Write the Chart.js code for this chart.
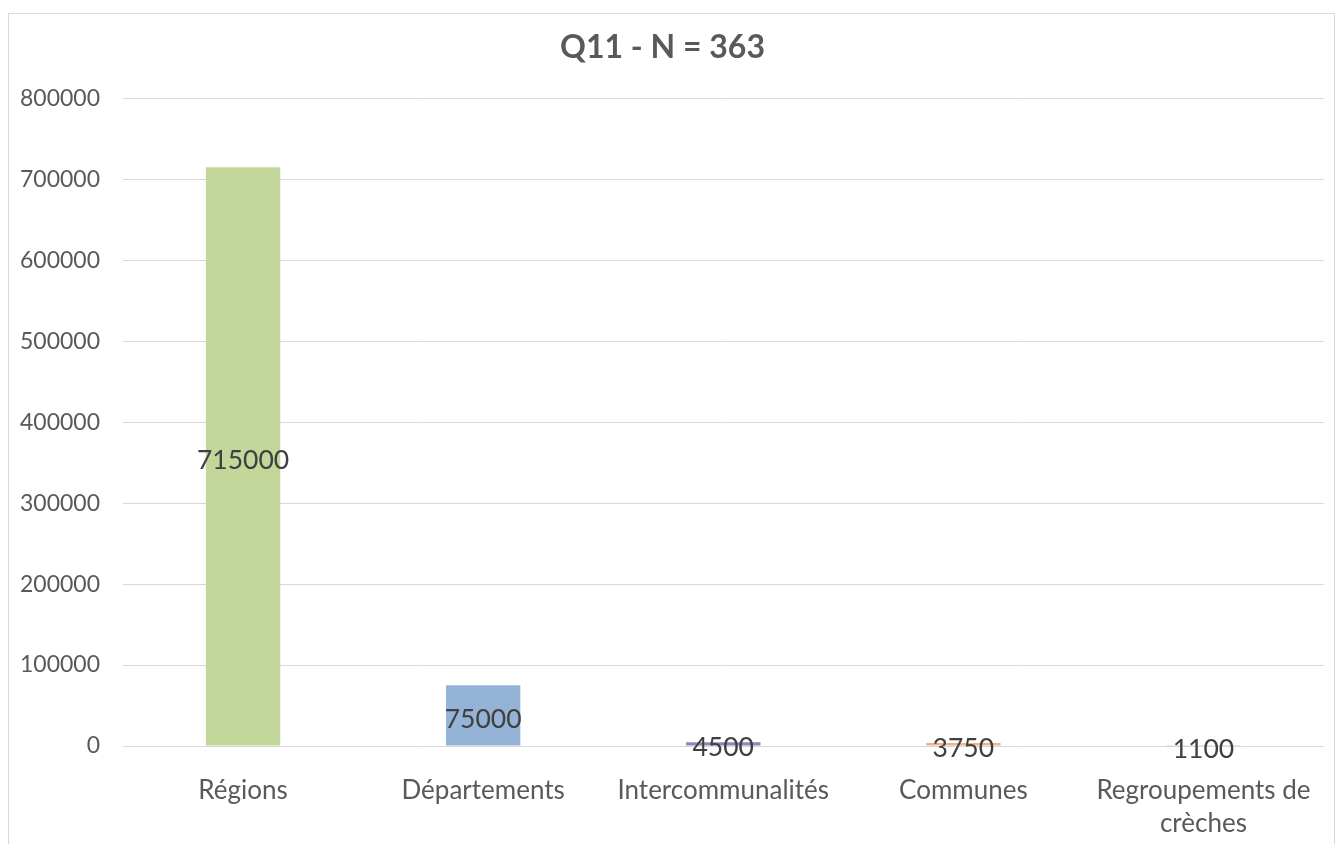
<!DOCTYPE html>
<html>
<head>
<meta charset="utf-8">
<script src="https://cdn.jsdelivr.net/npm/chart.js@4"></script>
<style>
  html, body { margin: 0; padding: 0; background: #ffffff; }
  #wrap { position: relative; width: 1340px; height: 844px; overflow: hidden; }
  #frame { position: absolute; left: 8px; top: 13px; width: 1327px; height: 900px; border: 1px solid #d9d9d9; box-sizing: border-box; }
  canvas { position: absolute; left: 0; top: 0; }
</style>
</head>
<body>
<div id="wrap">
  <div id="frame"></div>
  <canvas id="c" width="1340" height="844"></canvas>
</div>
<script>
const categories = ["Régions", "Départements", "Intercommunalités", "Communes", ["Regroupements de", "crèches"]];
const values = [715000, 75000, 4500, 3750, 1100];
const barColors = ["#c4d79b", "#95b3d7", "#8b87b8", "#f4b183", "#b7dee8"];
const yTicks = [0, 100000, 200000, 300000, 400000, 500000, 600000, 700000, 800000];

const FONT = "Lato, 'Open Sans', sans-serif";

const dataLabels = {
  id: 'dataLabels',
  afterDatasetsDraw(chart) {
    const ctx = chart.ctx;
    const meta = chart.getDatasetMeta(0);
    ctx.save();
    ctx.font = "26.5px " + FONT;
    ctx.fillStyle = "#404040";
    ctx.textAlign = "center";
    ctx.textBaseline = "middle";
    meta.data.forEach((bar, i) => {
      const yc = (bar.y + bar.base) / 2 + 4;
      ctx.fillText(String(values[i]), bar.x, yc);
    });
    ctx.restore();
  }
};

new Chart(document.getElementById('c'), {
  type: 'bar',
  data: {
    labels: categories,
    datasets: [{
      data: values,
      backgroundColor: barColors,
      borderWidth: 0,
      barPercentage: 0.31,
      categoryPercentage: 1.0
    }]
  },
  options: {
    responsive: false,
    animation: false,
    devicePixelRatio: 1,
    layout: { padding: { left: 0, right: 15, top: 0, bottom: 0 } },
    plugins: {
      legend: { display: false },
      tooltip: { enabled: false },
      title: {
        display: true,
        text: "Q11 - N = 363",
        color: "#595959",
        font: { family: FONT, size: 32, weight: 'bold', lineHeight: 1.2 },
        padding: { top: 28, bottom: 32 }
      }
    },
    scales: {
      x: {
        grid: { display: false, drawTicks: false },
        border: { display: false },
        ticks: {
          color: "#595959",
          font: { family: FONT, size: 26, lineHeight: 1.27 },
          padding: 28,
          autoSkip: false,
          maxRotation: 0,
          minRotation: 0
        },
        afterFit(scale) { scale.height = 98; }
      },
      y: {
        min: 0,
        max: 800000,
        afterBuildTicks(scale) { scale.ticks = yTicks.map(v => ({ value: v })); },
        grid: { color: "#d9d9d9", lineWidth: 1, drawTicks: false },
        border: { display: false },
        ticks: {
          color: "#595959",
          font: { family: FONT, size: 23 },
          padding: 23,
          callback: (v) => String(v)
        },
        afterFit(scale) { scale.width = 123; }
      }
    }
  },
  plugins: [dataLabels]
});
</script>
</body>
</html>
